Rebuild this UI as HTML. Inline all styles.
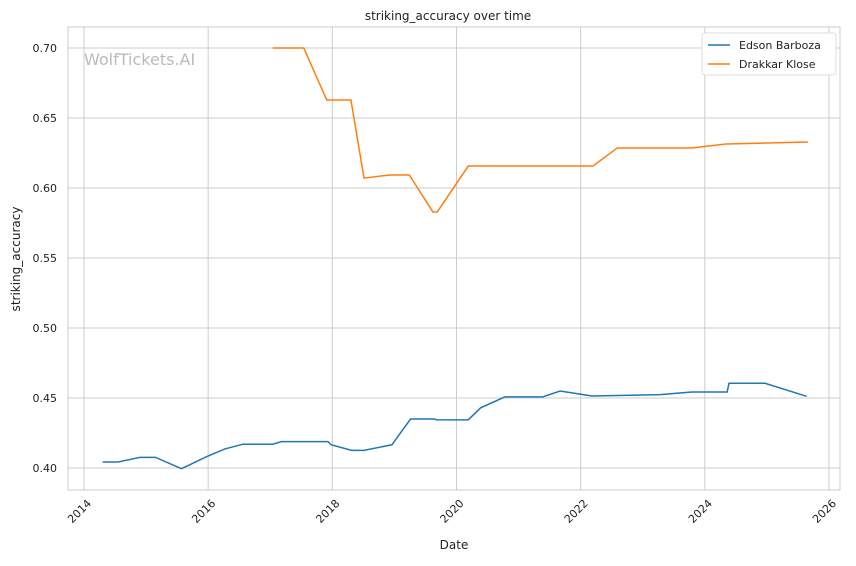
<!DOCTYPE html>
<html><head><meta charset="utf-8"><style>
body{margin:0;background:#fff;font-family:"Liberation Sans","DejaVu Sans",sans-serif}
svg text{font-family:"DejaVu Sans","Liberation Sans",sans-serif}
</style></head><body>
<svg id="chart" width="856" height="561">
<text x="448" y="20" font-size="12" text-anchor="middle" fill="#222">striking_accuracy over time</text>
<g id="grid"></g>
<text x="84" y="65" font-size="16" fill="#bbb">WolfTickets.AI</text>
<g id="series"></g>
<rect x="68" y="27" width="772" height="463" fill="none" stroke="#ccc" stroke-width="1"/>
<text x="454" y="549" font-size="12" text-anchor="middle" fill="#222">Date</text>
<text transform="translate(20,259) rotate(-90)" font-size="12" text-anchor="middle" fill="#222">striking_accuracy</text>
<g>
<rect x="702" y="33" width="134" height="42" fill="#fff" stroke="#ddd" rx="3"/>
<line x1="708" y1="45" x2="730" y2="45" stroke="#1f77b4" stroke-width="1.5"/>
<text x="739" y="49" font-size="11" fill="#222">Edson Barboza</text>
<line x1="708" y1="64" x2="730" y2="64" stroke="#ff7f0e" stroke-width="1.5"/>
<text x="739" y="68" font-size="11" fill="#222">Drakkar Klose</text>
</g>
</svg>
<script>
const xTicks=[2014,2016,2018,2020,2022,2024,2026];
const yTicks=[0.40,0.45,0.50,0.55,0.60,0.65,0.70];
const edsonDates=[2014.30,2014.55,2014.90,2015.15,2015.57,2015.97,2016.27,2016.56,2017.04,2017.18,2017.93,2017.98,2018.31,2018.51,2018.96,2019.26,2019.65,2019.67,2020.19,2020.39,2020.78,2021.39,2021.67,2022.18,2023.28,2023.79,2024.36,2024.39,2024.97,2025.64];
const edsonValues=[0.4043,0.4043,0.4076,0.4076,0.3995,0.408,0.4136,0.417,0.417,0.4188,0.4188,0.4166,0.4126,0.4126,0.4166,0.435,0.435,0.4345,0.4344,0.443,0.4508,0.4508,0.455,0.4514,0.4524,0.4543,0.4543,0.4605,0.4605,0.4512];
const drakkarDates=[2017.04,2017.54,2017.91,2018.30,2018.51,2018.93,2019.24,2019.62,2019.69,2020.19,2022.20,2022.59,2023.79,2024.34,2025.66];
const drakkarValues=[0.70,0.70,0.6629,0.6629,0.6071,0.6093,0.6093,0.5829,0.5829,0.6157,0.6157,0.6286,0.6286,0.6314,0.6329];
const X=v=>84+(v-2014)*62.08;
const Y=v=>468-(v-0.40)*1400;
const NS="http://www.w3.org/2000/svg";
const grid=document.getElementById('grid');
xTicks.forEach(t=>{
 const l=document.createElementNS(NS,'line');
 l.setAttribute('x1',X(t));l.setAttribute('x2',X(t));l.setAttribute('y1',27);l.setAttribute('y2',490);
 l.setAttribute('stroke','#ccc');
 
 
 grid.appendChild(l);
 const tx=document.createElementNS(NS,'text');
 tx.setAttribute('transform',`translate(${X(t)+8},${504}) rotate(-45)`);
 tx.setAttribute('text-anchor','end');tx.setAttribute('font-size','11');tx.setAttribute('fill','#222');
 tx.textContent=t;
 
 
 grid.appendChild(tx);
});
yTicks.forEach(t=>{
 const l=document.createElementNS(NS,'line');
 l.setAttribute('x1',68);l.setAttribute('x2',840);l.setAttribute('y1',Y(t));l.setAttribute('y2',Y(t));
 l.setAttribute('stroke','#ccc');
 
 
 grid.appendChild(l);
 const tx=document.createElementNS(NS,'text');
 tx.setAttribute('x',57);tx.setAttribute('y',Y(t)+4);
 tx.setAttribute('text-anchor','end');tx.setAttribute('font-size','11');tx.setAttribute('fill','#222');
 tx.textContent=t.toFixed(2);
 
 
 grid.appendChild(tx);
});
const series=document.getElementById('series');
function line(d,v,c,name){
 const p=document.createElementNS(NS,'polyline');
 p.setAttribute('points',d.map((x,i)=>X(x)+','+Y(v[i])).join(' '));
 p.setAttribute('fill','none');p.setAttribute('stroke',c);p.setAttribute('stroke-width','1.5');
 
 
 series.appendChild(p);
}
line(edsonDates,edsonValues,'#1f77b4','edson-barboza-line');
line(drakkarDates,drakkarValues,'#ff7f0e','drakkar-klose-line');
</script>
</body></html>
